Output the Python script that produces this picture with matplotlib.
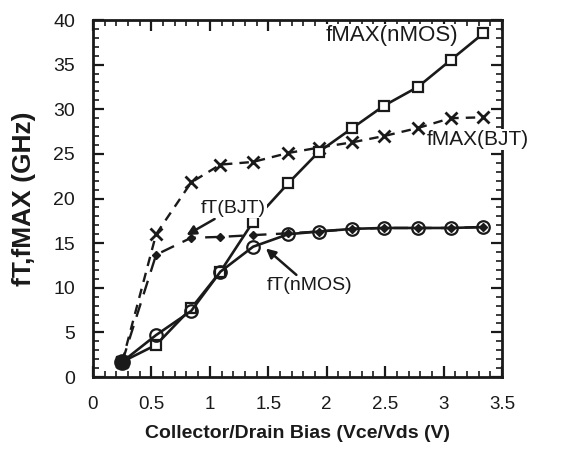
import matplotlib
matplotlib.use("Agg")
import matplotlib.pyplot as plt
from matplotlib.ticker import MultipleLocator

plt.rcParams['font.family'] = ['Liberation Sans', 'DejaVu Sans']

# Bias values (V) as read against the printed tick labels
vbias = [0.25, 0.54, 0.84, 1.09, 1.37, 1.67, 1.93, 2.22, 2.49, 2.78, 3.06, 3.34]

ft_nmos = [1.7, 4.7, 7.4, 11.8, 14.6, 16.0, 16.3, 16.6, 16.7, 16.7, 16.7, 16.8]
fmax_nmos = [1.7, 3.6, 7.7, 11.8, 17.4, 21.7, 25.2, 27.9, 30.4, 32.5, 35.5, 38.5]
fmax_bjt = [1.7, 16.0, 21.8, 23.8, 24.1, 25.1, 25.7, 26.3, 27.0, 27.9, 29.0, 29.1]
ft_bjt = [1.7, 13.7, 15.6, 15.7, 15.9, 16.1, 16.3, 16.6, 16.7, 16.7, 16.7, 16.8]

xticks = [0, 0.5, 1, 1.5, 2, 2.5, 3, 3.5]
xtick_labels = ['0', '0.5', '1', '1.5', '2', '2.5', '3', '3.5']
yticks = [0, 5, 10, 15, 20, 25, 30, 35, 40]

fig = plt.figure(figsize=(5.73, 4.55), dpi=100)
ax = fig.add_axes([0.1623, 0.1714, 0.7138, 0.7846])

ink = '#1a1a1a'

ax.plot(vbias, fmax_bjt, color=ink, lw=1.7, dashes=(4, 3), marker='x',
        ms=8, mew=2.0, zorder=3)
ax.plot(vbias, ft_bjt, color=ink, lw=1.7, dashes=(6, 4), marker='D',
        ms=4.5, mfc=ink, mec=ink, zorder=4)
ax.plot(vbias, fmax_nmos, color=ink, lw=1.9, marker='s', ms=7,
        mfc='white', mec=ink, mew=1.6, zorder=3)
ax.plot(vbias, ft_nmos, color=ink, lw=1.9, marker='o', ms=9,
        mfc='none', mec=ink, mew=1.6, zorder=5)
# common start point appears as a filled blob
ax.plot(vbias[:1], ft_nmos[:1], 'o', color=ink, ms=11, zorder=6)

bb = dict(facecolor='white', edgecolor='none', pad=0.5)
ax.text(2.56, 38.3, 'fMAX(nMOS)', fontsize=16, ha='center', va='center',
        color=ink, zorder=7, bbox=bb)
ax.text(2.86, 26.6, 'fMAX(BJT)', fontsize=15, ha='left', va='center',
        color=ink, zorder=7, bbox=bb)
ax.annotate('fT(BJT)', xy=(0.80, 15.9), xytext=(1.20, 18.9), fontsize=14,
            ha='center', va='center', color=ink, zorder=7, bbox=bb,
            arrowprops=dict(arrowstyle='-|>', color=ink, lw=1.8,
                            shrinkA=2, shrinkB=0, mutation_scale=14))
ax.annotate('fT(nMOS)', xy=(1.48, 14.4), xytext=(1.85, 10.2), fontsize=14,
            ha='center', va='center', color=ink, zorder=7, bbox=bb,
            arrowprops=dict(arrowstyle='-|>', color=ink, lw=1.8,
                            shrinkA=2, shrinkB=0, mutation_scale=14))

ax.set_xlim(0, 3.5)
ax.set_ylim(0, 40)
ax.set_xticks(xticks)
ax.set_xticklabels(xtick_labels)
ax.set_yticks(yticks)
ax.xaxis.set_minor_locator(MultipleLocator(0.1))
ax.yaxis.set_minor_locator(MultipleLocator(1))
ax.tick_params(which='both', direction='in', top=True, right=True,
               color=ink, labelcolor=ink)
ax.tick_params(which='major', length=8, width=1.6)
ax.tick_params(which='minor', length=4, width=1.2)
ax.tick_params(axis='x', which='major', labelsize=13.5, pad=14)
ax.tick_params(axis='y', which='major', labelsize=14, pad=13)
for s in ax.spines.values():
    s.set_linewidth(2.0)
    s.set_color(ink)

ax.set_xlabel('Collector/Drain Bias (Vce/Vds (V)', fontsize=14,
              fontweight='bold', color=ink, labelpad=8)
ax.set_ylabel('fT,fMAX (GHz)', fontsize=19, fontweight='bold', color=ink,
              labelpad=12)

fig.savefig('out.png', dpi=100)
